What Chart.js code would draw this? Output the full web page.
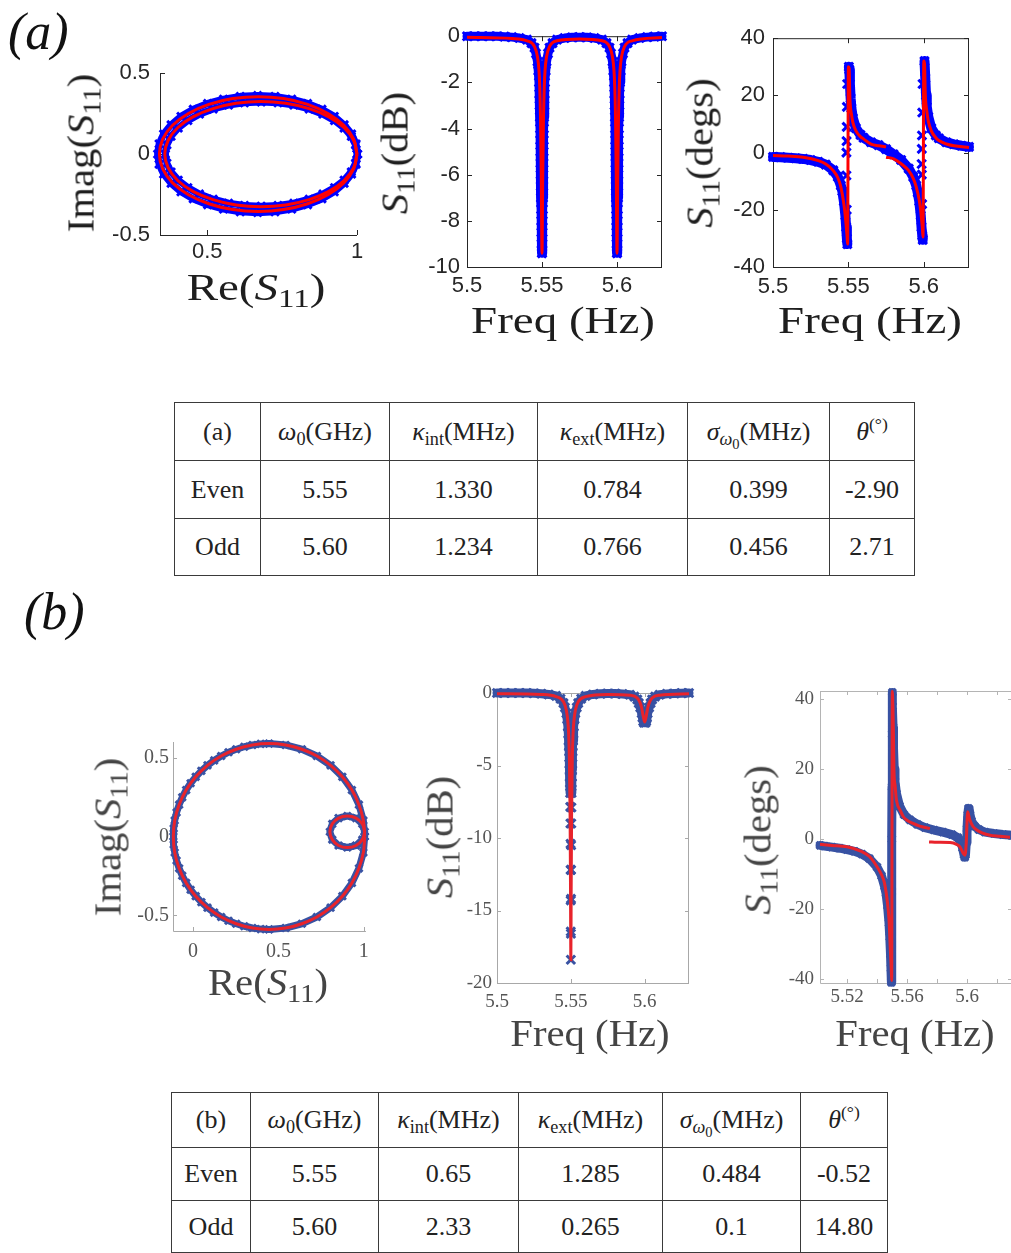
<!DOCTYPE html>
<html>
<head>
<meta charset="utf-8">
<script src="https://cdn.jsdelivr.net/npm/chart.js"></script>
<style>
  html, body { margin: 0; padding: 0; background: #fff; }
  body { position: relative; width: 1011px; height: 1253px; overflow: hidden; }
  canvas.plot { position: absolute; }
  .ttl { position: absolute; white-space: nowrap; font-family: 'Liberation Serif', serif; line-height: 1; transform-origin: 50% 50%; }
  .tag { position: absolute; font-family: 'Liberation Serif', serif; font-style: italic; font-size: 52px; line-height: 1; color: #111; }
  sub { font-size: 0.7em; vertical-align: -0.28em; line-height: 0; }
  sup { font-size: 0.68em; vertical-align: 0.55em; line-height: 0; }
  table.par { position: absolute; border-collapse: collapse; table-layout: fixed; font-family: 'Liberation Serif', serif; font-size: 26px; color: #222; }
  table.par td { border: 1px solid #3a3a3a; text-align: center; vertical-align: middle; padding: 0; white-space: nowrap; }
</style>
</head>
<body>
<div class="tag" style="left:8px; top:6px;">(a)</div>
<div class="tag" style="left:24px; top:586px;">(b)</div>

<canvas id="iqA" class="plot" style="left:100px; top:50px;" width="269" height="220"></canvas>
<canvas id="dbA" class="plot" style="left:400px; top:16px;" width="276" height="286"></canvas>
<canvas id="phA" class="plot" style="left:706px; top:17px;" width="277" height="285"></canvas>
<canvas id="iqB" class="plot" style="left:113px; top:722px;" width="265" height="244"></canvas>
<canvas id="dbB" class="plot" style="left:437px; top:673px;" width="264" height="345"></canvas>
<canvas id="phB" class="plot" style="left:760px; top:671px;" width="264" height="347"></canvas>

<script>
// ---------- (a) IQ plane: fitted ellipses ----------
const reEvenFitA = [1.000,0.989,0.956,0.903,0.835,0.755,0.670,0.585,0.505,0.437,0.384,0.351,0.340,0.351,0.384,0.437,0.505,0.585,0.670,0.755,0.835,0.903,0.956,0.989,1.000];
const imEvenFitA = [0,0.092,0.178,0.251,0.307,0.343,0.355,0.343,0.307,0.251,0.178,0.092,0,-0.092,-0.178,-0.251,-0.307,-0.343,-0.355,-0.343,-0.307,-0.251,-0.178,-0.092,0];
const reOddFitA = [1.000,0.989,0.957,0.906,0.840,0.762,0.679,0.596,0.519,0.452,0.401,0.369,0.358,0.369,0.401,0.452,0.519,0.596,0.679,0.762,0.840,0.906,0.957,0.989,1.000];
const imOddFitA = [0,0.084,0.163,0.230,0.281,0.314,0.325,0.314,0.281,0.230,0.163,0.084,0,-0.084,-0.163,-0.230,-0.281,-0.314,-0.325,-0.314,-0.281,-0.230,-0.163,-0.084,0];
// measured traces
const reEvenMeasA = [1.002,0.997,0.982,0.957,0.924,0.883,0.835,0.782,0.726,0.668,0.610,0.554,0.501,0.453,0.412,0.379,0.354,0.339,0.334,0.339,0.354,0.379,0.412,0.453,0.501,0.554,0.610,0.668,0.726,0.782,0.835,0.883,0.924,0.957,0.982,0.997,1.002];
const imEvenMeasA = [0,0.063,0.124,0.181,0.233,0.277,0.313,0.340,0.357,0.362,0.357,0.340,0.313,0.277,0.233,0.181,0.124,0.063,0,-0.063,-0.124,-0.181,-0.233,-0.277,-0.313,-0.340,-0.357,-0.362,-0.357,-0.340,-0.313,-0.277,-0.233,-0.181,-0.124,-0.063,0];
const reOddMeasA = [1.000,0.995,0.981,0.957,0.925,0.886,0.840,0.789,0.736,0.680,0.624,0.571,0.520,0.474,0.435,0.403,0.379,0.365,0.360,0.365,0.379,0.403,0.435,0.474,0.520,0.571,0.624,0.680,0.736,0.789,0.840,0.886,0.925,0.957,0.981,0.995,1.000];
const imOddMeasA = [0,0.056,0.110,0.161,0.207,0.247,0.279,0.303,0.317,0.322,0.317,0.303,0.279,0.247,0.207,0.161,0.110,0.056,0,-0.056,-0.110,-0.161,-0.207,-0.247,-0.279,-0.303,-0.317,-0.322,-0.317,-0.303,-0.279,-0.247,-0.207,-0.161,-0.110,-0.056,0];

// ---------- (a) |S11| in dB ----------
const freqFitDbA = [5.500,5.530,5.540,5.545,5.547,5.548,5.5485,5.549,5.5495,5.550,5.5505,5.551,5.5515,5.552,5.553,5.555,5.560,5.575,5.590,5.595,5.597,5.598,5.5985,5.599,5.5995,5.600,5.6005,5.601,5.6015,5.602,5.603,5.605,5.610,5.630];
const dbFitA = [-0.05,-0.1,-0.2,-0.45,-0.9,-1.5,-2.2,-3.5,-6.0,-9.4,-6.0,-3.5,-2.2,-1.5,-0.9,-0.45,-0.2,-0.12,-0.2,-0.45,-0.9,-1.5,-2.2,-3.5,-6.0,-9.4,-6.0,-3.5,-2.2,-1.5,-0.9,-0.45,-0.2,-0.06];
const freqMeasDbA = [5.500,5.505,5.510,5.515,5.520,5.525,5.530,5.535,5.540,5.543,5.545,5.546,5.547,5.5475,5.548,
  5.5482,5.5484,5.5486,5.5487,5.5488,5.5489,5.5490,5.5491,5.5492,5.5493,5.5494,5.5495,5.5496,5.5497,5.5499,
  5.5501,5.5503,5.5504,5.5505,5.5506,5.5507,5.5508,5.5509,5.5510,5.5511,5.5512,5.5513,5.5514,5.5516,5.5518,5.552,
  5.5525,5.553,5.554,5.555,5.557,5.560,5.565,5.570,5.575,5.580,5.585,5.590,5.593,5.595,5.596,5.597,5.5975,5.598,
  5.5982,5.5984,5.5986,5.5987,5.5988,5.5989,5.5990,5.5991,5.5992,5.5993,5.5994,5.5995,5.5996,5.5997,5.5999,
  5.6001,5.6003,5.6004,5.6005,5.6006,5.6007,5.6008,5.6009,5.6010,5.6011,5.6012,5.6013,5.6014,5.6016,5.6018,5.602,
  5.6025,5.603,5.604,5.605,5.607,5.610,5.615,5.620,5.625,5.630];
const dbMeasA = [0,0,0,0,0,-0.02,-0.04,-0.08,-0.15,-0.3,-0.5,-0.75,-1.1,-1.5,-2.0,
  -2.5,-3.0,-3.5,-4.0,-4.5,-5.0,-5.5,-6.0,-6.5,-7.0,-7.5,-8.0,-8.5,-9.0,-9.4,
  -9.4,-9.0,-8.5,-8.0,-7.5,-7.0,-6.5,-6.0,-5.5,-5.0,-4.5,-4.0,-3.5,-3.0,-2.5,-2.0,
  -1.5,-1.1,-0.75,-0.5,-0.3,-0.15,-0.08,-0.05,-0.04,-0.05,-0.08,-0.15,-0.3,-0.5,-0.75,-1.1,-1.5,-2.0,
  -2.5,-3.0,-3.5,-4.0,-4.5,-5.0,-5.5,-6.0,-6.5,-7.0,-7.5,-8.0,-8.5,-9.0,-9.4,
  -9.4,-9.0,-8.5,-8.0,-7.5,-7.0,-6.5,-6.0,-5.5,-5.0,-4.5,-4.0,-3.5,-3.0,-2.5,-2.0,
  -1.5,-1.1,-0.75,-0.5,-0.3,-0.15,-0.08,-0.04,-0.02,0];

// ---------- (a) phase in degrees ----------
const freqFitEvenPhA = [5.500,5.510,5.520,5.530,5.535,5.540,5.543,5.545,5.547,5.548,5.549,5.5495,5.5500,5.5505,5.551,5.552,5.553,5.555,5.558,5.560,5.565,5.570,5.575];
const phFitEvenA = [-1.0,-1.2,-1.6,-2.8,-4.0,-6.3,-8.8,-12,-18,-22.5,-28.5,-32,30,29.5,19,13.5,10.5,7.6,5.6,4.8,3.0,2.4,2.0];
const freqFitOddPhA = [5.575,5.580,5.585,5.590,5.593,5.595,5.597,5.598,5.599,5.5995,5.6000,5.6005,5.601,5.602,5.603,5.605,5.608,5.610,5.615,5.620,5.630];
const phFitOddA = [-1.6,-2.2,-3.9,-6.3,-9,-12,-16.7,-20.5,-26,-29.5,32,31,20.5,14.6,11,7.6,5.2,4.2,3.0,2.4,1.8];
const freqMeasPhA = [5.500,5.505,5.510,5.515,5.520,5.525,5.530,5.535,5.540,5.543,5.545,5.546,5.547,5.548,5.5485,5.549,5.5493,
  5.5489,5.5487,5.5487,5.5488,5.5489,5.5490,5.5492,5.5503,5.5506,5.551,5.5515,5.552,5.553,5.555,5.558,5.560,5.565,5.570,5.575,
  5.580,5.585,5.590,5.593,5.595,5.596,5.597,5.598,5.5985,5.599,5.5993,
  5.5989,5.5987,5.5986,5.5987,5.5988,5.5990,5.5992,5.6005,5.601,5.6015,5.602,5.603,5.605,5.608,5.610,5.615,5.620,5.625,5.630];
const phMeasA = [-1.5,-1.6,-1.8,-2.0,-2.2,-2.6,-3.2,-4.2,-6.2,-8.5,-11.5,-13.5,-17,-22,-26,-30,-32,
  -20,-8,0,4,9,16,24,30,29,24,19,15.5,12,8.5,6.2,5.2,3.6,2.6,1.2,
  -0.6,-2.6,-5.6,-8.5,-11.5,-14,-17,-22,-26,-29,-30.5,
  -18,-7.7,-4,1.3,6,14,24,32,26,20,16,12.5,8.5,6,5,3.6,2.9,2.4,2.0];

// ---------- (b) IQ plane ----------
const reEvenFitB = [1.005,0.997,0.971,0.930,0.874,0.805,0.725,0.637,0.542,0.445,0.348,0.253,0.165,0.085,0.016,-0.040,-0.081,-0.107,-0.115,-0.107,-0.081,-0.040,0.016,0.085,0.165,0.253,0.348,0.445,0.542,0.637,0.725,0.805,0.874,0.930,0.971,0.997,1.005];
const imEvenFitB = [0,0.102,0.202,0.295,0.379,0.452,0.511,0.554,0.581,0.590,0.581,0.554,0.511,0.452,0.379,0.295,0.202,0.102,0,-0.102,-0.202,-0.295,-0.379,-0.452,-0.511,-0.554,-0.581,-0.590,-0.581,-0.554,-0.511,-0.452,-0.379,-0.295,-0.202,-0.102,0];
const reOddFitB = [1.005,0.991,0.954,0.903,0.852,0.815,0.801,0.815,0.852,0.903,0.954,0.991,1.005];
const imOddFitB = [0.030,0.080,0.117,0.130,0.117,0.080,0.030,-0.020,-0.057,-0.070,-0.057,-0.020,0.030];
const reMeasB = [1.005,0.997,0.971,0.930,0.874,0.805,0.725,0.637,0.542,0.445,
  0.396,0.348,0.300,0.253,0.208,0.165,0.124,0.085,0.049,0.016,-0.014,-0.040,-0.063,-0.081,-0.096,-0.107,-0.113,
  -0.115,
  -0.113,-0.107,-0.096,-0.081,-0.063,-0.040,-0.014,0.016,0.049,0.085,0.124,0.165,0.208,0.253,0.300,0.348,0.396,
  0.445,0.542,0.637,0.725,0.805,0.874,0.930,0.971,0.997,1.005,
  0.991,0.954,0.903,0.852,0.815,0.801,0.815,0.852,0.903,0.954,0.991,1.005];
const imMeasB = [0,0.102,0.202,0.295,0.379,0.452,0.511,0.554,0.581,0.590,
  0.588,0.581,0.570,0.554,0.535,0.511,0.483,0.452,0.417,0.379,0.338,0.295,0.249,0.202,0.153,0.102,0.051,
  0,
  -0.051,-0.102,-0.153,-0.202,-0.249,-0.295,-0.338,-0.379,-0.417,-0.452,-0.483,-0.511,-0.535,-0.554,-0.570,-0.581,-0.588,
  -0.590,-0.581,-0.554,-0.511,-0.452,-0.379,-0.295,-0.202,-0.102,0,
  -0.020,-0.057,-0.070,-0.057,-0.020,0.030,0.080,0.117,0.130,0.117,0.080,0.030];

// ---------- (b) |S11| in dB ----------
const freqFitDbB = [5.500,5.530,5.540,5.545,5.547,5.548,5.5485,5.549,5.5495,5.5498,5.5500,5.5502,5.5505,5.551,5.5515,5.552,5.553,5.555,5.560,5.575,5.590,5.595,5.597,5.598,5.599,5.600,5.601,5.602,5.603,5.605,5.610,5.630];
const dbFitB = [-0.05,-0.1,-0.25,-0.6,-1.2,-2.0,-2.8,-4.5,-8.5,-14,-18.4,-14,-8.5,-4.5,-2.8,-2.0,-1.2,-0.6,-0.25,-0.1,-0.15,-0.35,-0.7,-1.05,-1.6,-2.0,-1.6,-1.05,-0.7,-0.35,-0.15,-0.05];
const freqMeasDbB = [5.500,5.505,5.510,5.515,5.520,5.525,5.530,5.535,5.540,5.543,5.545,5.546,5.547,5.5475,5.548,
  5.5483,5.5485,5.5487,5.5489,5.5490,5.5491,5.5492,5.5493,5.5494,5.5495,5.5496,5.5497,5.5498,5.54985,5.5499,5.54995,5.5500,
  5.55005,5.5501,5.55015,5.5502,5.5503,5.5504,5.5505,5.5506,5.5507,5.5508,5.5509,5.5510,5.5511,5.5513,5.5515,5.5517,5.552,
  5.5525,5.553,5.554,5.555,5.557,5.560,5.565,5.570,5.575,5.580,5.585,5.590,5.593,5.595,5.596,5.597,5.598,5.5985,5.599,5.5995,
  5.600,5.6005,5.601,5.6015,5.602,5.603,5.604,5.605,5.607,5.610,5.615,5.620,5.625,5.630];
const dbMeasB = [0,0,0,0,0,-0.02,-0.05,-0.1,-0.2,-0.4,-0.7,-1.0,-1.4,-1.8,-2.3,
  -2.8,-3.3,-3.7,-4.05,-4.45,-4.9,-5.3,-5.8,-6.2,-6.9,-7.85,-9.0,-10.4,-12.2,-14.3,-16.45,-18.4,
  -16.6,-14.2,-12.2,-10.5,-9.0,-7.9,-6.9,-6.2,-5.8,-5.3,-4.9,-4.45,-4.05,-3.7,-3.3,-2.8,-2.3,
  -1.8,-1.4,-1.0,-0.7,-0.4,-0.2,-0.1,-0.05,-0.03,-0.04,-0.07,-0.12,-0.25,-0.45,-0.7,-1.0,-1.4,-1.7,-1.95,-2.05,
  -1.9,-2.05,-1.95,-1.7,-1.4,-1.0,-0.7,-0.45,-0.25,-0.12,-0.06,-0.03,-0.01,0];

// ---------- (b) phase in degrees ----------
const freqFitEvenPhB = [5.502,5.510,5.520,5.530,5.535,5.540,5.543,5.545,5.547,5.548,5.549,5.5495,5.5498,5.5502,5.5506,5.551,5.5513,5.552,5.553,5.5555,5.5576,5.560,5.564,5.568,5.5753];
const phFitEvenB = [-1.5,-1.8,-2.2,-3.6,-5.0,-7.9,-10.2,-12.6,-18.3,-23,-32.6,-37,-40.5,42.3,38,29.2,19.7,15.5,11.1,8.2,6.4,5.4,4.5,3.8,3.0];
const freqFitOddPhB = [5.5747,5.5800,5.5887,5.5930,5.5953,5.5975,5.5987,5.5995,5.6004,5.6010,5.6020,5.6040,5.6065,5.6100,5.6153,5.6220,5.6287];
const phFitOddB = [-0.8,-0.9,-1.0,-1.5,-2.2,-4.1,-4.6,-1.0,7.8,7.0,5.4,3.6,2.6,1.8,1.1,0.8,0.5];
const freqMeasPhB = [5.502,5.505,5.510,5.515,5.520,5.525,5.530,5.535,5.540,5.543,5.545,5.546,5.547,5.548,5.5485,5.549,5.5493,5.5496,
  5.5497,5.5498,5.5499,5.5500,5.5501,5.5502,5.5504,5.5507,5.551,5.5515,5.552,5.553,5.555,5.558,5.562,5.567,5.572,5.578,5.584,5.590,
  5.594,5.596,5.597,5.598,5.5985,5.599,5.5995,5.600,5.6005,5.601,5.6015,5.602,5.603,5.605,5.608,5.612,5.618,5.624,5.630];
const phMeasB = [-1.8,-2.0,-2.3,-2.6,-3.0,-3.5,-4.3,-5.6,-8.0,-10.5,-13.5,-15.5,-19,-24,-28,-33,-37,-41,
  -30,-15,0,15,30,42,38,32,26,20,16.5,13,9.5,7,5.5,4.2,3.3,2.6,2.0,1.3,
  0.4,-1.0,-2.5,-4.5,-5.2,-4.5,-1,3,7,8.8,8.5,7,5.2,3.7,2.7,2.0,1.6,1.3,1.1];

// ---------- axis ticks ----------
const freqTicks = [5.5, 5.55, 5.6];
const freqTicksPhB = [5.52, 5.54, 5.56, 5.58, 5.6, 5.62];
const freqLabelsPhB = [5.52, 5.56, 5.6];
const reTicksA = [0.5, 1];
const imTicksA = [-0.5, 0, 0.5];
const dbTicksA = [-10, -8, -6, -4, -2, 0];
const phTicks = [-40, -20, 0, 20, 40];
const reTicksB = [0, 0.5, 1];
const imTicksB = [-0.5, 0, 0.5];
const dbTicksB = [-20, -15, -10, -5, 0];

// ---------- fitted parameter tables ----------
const colHeads = ['<i>ω</i><sub>0</sub>(GHz)', '<i>κ</i><sub>int</sub>(MHz)', '<i>κ</i><sub>ext</sub>(MHz)',
  '<i>σ</i><sub><i>ω</i><sub style="font-size:0.8em">0</sub></sub>(MHz)', '<i>θ</i><sup>(°)</sup>'];
const modeNames = ['Even', 'Odd'];
const paramsA = [['5.55', '1.330', '0.784', '0.399', '-2.90'], ['5.60', '1.234', '0.766', '0.456', '2.71']];
const paramsB = [['5.55', '0.65', '1.285', '0.484', '-0.52'], ['5.60', '2.33', '0.265', '0.1', '14.80']];

const BLUE_A = '#0000ff', RED_A = '#ff0000';
const BLUE_B = '#3852a3', RED_B = '#e8232b';

function pts(xs, ys) { return xs.map((x, i) => ({ x, y: ys[i] })); }

// measured trace: thick band plus x markers; steep upward jumps keep only the markers
function measured(xs, ys, color, width, radius, jump) {
  const ds = {
    data: pts(xs, ys), showLine: true, tension: 0, clip: false, order: 2,
    borderColor: color, borderWidth: width, borderJoinStyle: 'round', borderCapStyle: 'round',
    pointStyle: 'crossRot', pointRadius: radius, pointBorderWidth: 3,
    pointBorderColor: color, pointBackgroundColor: color
  };
  if (jump) {
    ds.segment = { borderColor: c => Math.abs(c.p1.parsed.y - c.p0.parsed.y) > jump.size &&
      (!jump.rising || c.p1.parsed.y > c.p0.parsed.y) ? 'rgba(0,0,0,0)' : undefined };
  }
  return ds;
}

function fitted(xs, ys, color, mode) {
  return {
    data: pts(xs, ys), showLine: true, clip: false, order: 1,
    borderColor: color, borderWidth: 3, pointRadius: 0,
    tension: mode === 'loop' ? 0.4 : 0,
    cubicInterpolationMode: mode === 'mono' ? 'monotone' : 'default'
  };
}

// axis lines and inward tick marks, drawn under the data
const framePlugin = {
  id: 'frame',
  beforeDatasetsDraw(chart, args, opts) {
    const { ctx, chartArea: a, scales: { x, y } } = chart;
    const n = opts.tickLen;
    ctx.save();
    ctx.strokeStyle = opts.color;
    ctx.lineWidth = 1;
    ctx.beginPath();
    ctx.moveTo(a.left + 0.5, a.top);
    ctx.lineTo(a.left + 0.5, a.bottom + 0.5);
    ctx.lineTo(a.right, a.bottom + 0.5);
    if (opts.box) {
      ctx.moveTo(a.right - 0.5, a.bottom);
      ctx.lineTo(a.right - 0.5, a.top + 0.5);
      ctx.lineTo(a.left, a.top + 0.5);
    }
    x.ticks.forEach(t => {
      const px = Math.round(x.getPixelForValue(t.value)) + 0.5;
      ctx.moveTo(px, a.bottom); ctx.lineTo(px, a.bottom - n);
      if (opts.box) { ctx.moveTo(px, a.top); ctx.lineTo(px, a.top + n); }
    });
    y.ticks.forEach(t => {
      const py = Math.round(y.getPixelForValue(t.value)) + 0.5;
      ctx.moveTo(a.left, py); ctx.lineTo(a.left + n, py);
      if (opts.box) { ctx.moveTo(a.right, py); ctx.lineTo(a.right - n, py); }
    });
    ctx.stroke();
    ctx.restore();
  }
};

function axis(min, max, ticks, shown, font, ink, pad, fit) {
  return {
    type: 'linear', min, max,
    grid: { display: false, drawTicks: false },
    border: { display: false },
    afterBuildTicks: s => { s.ticks = ticks.map(v => ({ value: v })); },
    afterFit: fit,
    ticks: {
      autoSkip: false, maxRotation: 0, minRotation: 0, padding: pad, font, color: ink,
      callback: v => (!shown || shown.includes(v)) ? String(v) : ''
    }
  };
}

function plot(id, o) {
  return new Chart(document.getElementById(id), {
    type: 'scatter',
    data: { datasets: o.datasets },
    options: {
      responsive: false, animation: false, events: [],
      layout: { padding: { top: o.padTop, right: o.padRight, left: 0, bottom: 0 } },
      plugins: {
        legend: { display: false }, tooltip: { enabled: false },
        frame: { box: o.box, color: o.frame, tickLen: o.tickLen }
      },
      scales: {
        x: axis(o.x[0], o.x[1], o.xTicks, o.xShown, o.font, o.ink, o.xPad, s => { s.height = o.xH; }),
        y: axis(o.y[0], o.y[1], o.yTicks, null, o.font, o.ink, o.yPad, s => { s.width = o.yW; })
      }
    },
    plugins: [framePlugin]
  });
}

const sansA = { family: "'Liberation Sans', Arial, sans-serif", size: 22 };
const serifB = { family: "'Liberation Serif', serif", size: 19 };
const serifIQB = { family: "'Liberation Serif', serif", size: 20 };

plot('iqA', {
  x: [0.342, 1.0], y: [-0.5, 0.5], xTicks: reTicksA, yTicks: imTicksA,
  yW: 60, xH: 35, padTop: 20, padRight: 12, xPad: 4, yPad: 10,
  font: sansA, ink: '#262626', frame: '#262626', box: false, tickLen: 5,
  datasets: [
    fitted(reEvenFitA, imEvenFitA, RED_A, 'loop'),
    fitted(reOddFitA, imOddFitA, RED_A, 'loop'),
    measured(reEvenMeasA, imEvenMeasA, BLUE_A, 7, 5.5),
    measured(reOddMeasA, imOddMeasA, BLUE_A, 7, 5.5)
  ]
});

plot('dbA', {
  x: [5.5, 5.63], y: [-10, 0], xTicks: freqTicks, yTicks: dbTicksA,
  yW: 67, xH: 35, padTop: 20, padRight: 14, xPad: 6, yPad: 7,
  font: sansA, ink: '#262626', frame: '#262626', box: true, tickLen: 5,
  datasets: [
    fitted(freqFitDbA, dbFitA, RED_A, 'mono'),
    measured(freqMeasDbA, dbMeasA, BLUE_A, 9, 6)
  ]
});

plot('phA', {
  x: [5.5, 5.63], y: [-40, 40], xTicks: freqTicks, yTicks: phTicks,
  yW: 67, xH: 35, padTop: 20, padRight: 14, xPad: 7, yPad: 8,
  font: sansA, ink: '#262626', frame: '#262626', box: true, tickLen: 5,
  datasets: [
    fitted(freqFitEvenPhA, phFitEvenA, RED_A, 'mono'),
    fitted(freqFitOddPhA, phFitOddA, RED_A, 'mono'),
    measured(freqMeasPhA, phMeasA, BLUE_A, 10, 6, { size: 3, rising: true })
  ]
});

plot('iqB', {
  x: [-0.117, 1.012], y: [-0.6, 0.6], xTicks: reTicksB, yTicks: imTicksB,
  yW: 60, xH: 35, padTop: 20, padRight: 12, xPad: 9, yPad: 4,
  font: serifIQB, ink: '#555', frame: '#a8a8a8', box: false, tickLen: 4,
  datasets: [
    fitted(reEvenFitB, imEvenFitB, RED_B, 'loop'),
    fitted(reOddFitB, imOddFitB, RED_B, 'loop'),
    measured(reMeasB, imMeasB, BLUE_B, 7, 5)
  ]
});

plot('dbB', {
  x: [5.5, 5.63], y: [-20, 0], xTicks: freqTicks, yTicks: dbTicksB,
  yW: 60, xH: 35, padTop: 20, padRight: 12, xPad: 8, yPad: 5,
  font: serifB, ink: '#555', frame: '#a8a8a8', box: true, tickLen: 4,
  datasets: [
    fitted(freqFitDbB, dbFitB, RED_B, 'mono'),
    measured(freqMeasDbB, dbMeasB, BLUE_B, 9, 6, { size: 0.9, rising: false })
  ]
});

plot('phB', {
  x: [5.502, 5.63], y: [-41.2, 42.4], xTicks: freqTicksPhB, xShown: freqLabelsPhB, yTicks: phTicks,
  yW: 60, xH: 35, padTop: 20, padRight: 12, xPad: 3, yPad: 6,
  font: serifB, ink: '#555', frame: '#b4b4b4', box: true, tickLen: 4,
  datasets: [
    fitted(freqFitEvenPhB, phFitEvenB, RED_B, 'mono'),
    fitted(freqFitOddPhB, phFitOddB, RED_B, 'mono'),
    measured(freqMeasPhB, phMeasB, BLUE_B, 9, 5)
  ]
});

// axis titles (LaTeX-style labels)
function title(html, cx, cy, size, color, vertical, stretch) {
  const d = document.createElement('div');
  d.className = 'ttl';
  d.innerHTML = html;
  d.style.fontSize = size + 'px';
  d.style.color = color;
  d.style.left = cx + 'px';
  d.style.top = cy + 'px';
  d.style.transform = 'translate(-50%, -50%)' + (vertical ? ' rotate(-90deg)' : '') + ' scaleX(' + stretch + ')';
  document.body.appendChild(d);
}
const S11 = '<i>S</i><sub>11</sub>';
title('Imag(' + S11 + ')', 81, 153, 37, '#1e1e1e', true, 1.1);
title('Re(' + S11 + ')', 256, 287, 37, '#1e1e1e', false, 1.27);
title(S11 + '(dB)', 395, 153, 37, '#1e1e1e', true, 1.1);
title('Freq (Hz)', 563, 320, 37, '#1e1e1e', false, 1.27);
title(S11 + '(degs)', 700, 153, 37, '#1e1e1e', true, 1.1);
title('Freq (Hz)', 870, 320, 37, '#1e1e1e', false, 1.27);

title('Imag(' + S11 + ')', 108, 837, 37, '#444', true, 1.1);
title('Re(' + S11 + ')', 268, 982, 37, '#444', false, 1.1);
title(S11 + '(dB)', 440, 837, 37, '#444', true, 1.1);
title('Freq (Hz)', 590, 1033, 37, '#444', false, 1.1);
title(S11 + '(degs)', 758, 840, 37, '#444', true, 1.1);
title('Freq (Hz)', 915, 1033, 37, '#444', false, 1.1);

// parameter tables
function paramTable(tag, rows, left, top, widths, heights) {
  const t = document.createElement('table');
  t.className = 'par';
  t.style.left = left + 'px';
  t.style.top = top + 'px';
  let h = '<colgroup>' + widths.map(w => '<col style="width:' + w + 'px">').join('') + '</colgroup>';
  h += '<tr style="height:' + heights[0] + 'px"><td>' + tag + '</td>' + colHeads.map(c => '<td>' + c + '</td>').join('') + '</tr>';
  rows.forEach((r, i) => {
    h += '<tr style="height:' + heights[i + 1] + 'px"><td>' + modeNames[i] + '</td>' + r.map(v => '<td>' + v + '</td>').join('') + '</tr>';
  });
  t.innerHTML = h;
  document.body.appendChild(t);
}
paramTable('(a)', paramsA, 174, 402, [86, 129, 148, 150, 142, 85], [58, 58, 57]);
paramTable('(b)', paramsB, 171, 1092, [79, 128, 140, 144, 138, 87], [55, 53, 52]);
</script>
</body>
</html>
